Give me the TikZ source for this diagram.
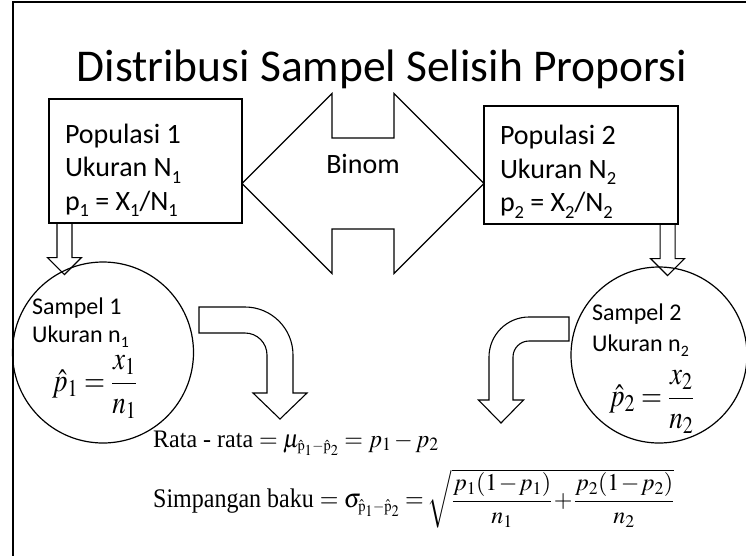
\documentclass[tikz,border=0pt]{standalone}
\usepackage{amsmath}
\usepackage{mathptmx}
\usepackage[no-math]{fontspec}
\setmainfont{Carlito}
\newfontfamily\timesfont{Liberation Serif}
\usepackage{graphicx}
\usetikzlibrary{positioning}
\newcommand{\sbs}[1]{\raisebox{-0.22em}{\scalebox{0.66}{#1}}}
\newcommand{\popstrut}[1]{\spaceskip=0.226em plus 0.1em minus 0.05em\relax\rule{0pt}{#1}}
\newcommand{\tall}[2][1.25]{\scalebox{1}[#1]{#2}}
\tikzset{
  popbox/.style={draw,line width=1.1pt,text width=161pt,inner xsep=16pt,inner ysep=0pt,align=left,font=\fontsize{28}{33.5}\selectfont},
  blk/.style={draw,line width=1.1pt,line join=miter},
  sampcirc/.style={draw,circle,line width=1.2pt,inner sep=0pt},
  titletext/.style={font=\fontsize{45.5}{50}\selectfont,inner sep=0pt},
  lbltext/.style={font=\fontsize{28}{33}\selectfont,inner sep=0pt},
  samptext/.style={font=\fontsize{24}{27}\selectfont,inner sep=0pt},
  formtext/.style={font=\fontsize{24}{28}\selectfont\timesfont,inner sep=0pt},
  esttext/.style={font=\fontsize{27}{30}\selectfont\timesfont,inner sep=0pt}
}
\begin{document}
\begin{tikzpicture}[x=1pt,y=-1pt]
\useasboundingbox (0,0) rectangle (746,555);
% bingkai
\draw[line width=2pt] (13,560) -- (13,1.5) -- (750,1.5);
\node[titletext,anchor=base] (title) at (382,81) {Distribusi Sampel Selisih Proporsi};
% populasi
\node[popbox,minimum height=124pt] (pop1) at (145.5,161) {\popstrut{38pt}Populasi 1\\Ukuran N\sbs{1}\\p\sbs{1} = X\sbs{1}/N\sbs{1}};
\node[popbox,minimum height=118pt,text width=162pt] (pop2) at (581,165) {\popstrut{33pt}Populasi 2\\Ukuran N\sbs{2}\\p\sbs{2} = X\sbs{2}/N\sbs{2}};
% panah binom
\coordinate (bcen) at (363,183.5);
\draw[blk] (bcen) ++(-121,0) -- ++(90,-90) -- ++(0,44.5) -- ++(62,0) -- ++(0,-44.5) -- ++(90,90) -- ++(-90,90) -- ++(0,-44.5) -- ++(-62,0) -- ++(0,44.5) -- cycle;
\node[lbltext,anchor=base] (binom) at ([yshift=10.5pt]bcen) {Binom};
% panah ke bawah
\draw[blk] ([xshift=16pt]pop1.south west) ++(-7.5,0) -- ++(0,34) -- ++(-9.5,0) -- ++(17,17) -- ++(17,-17) -- ++(-9.5,0) -- ++(0,-34);
\draw[blk] ([xshift=-11pt]pop2.south east) ++(-7.5,0) -- ++(0,34) -- ++(-9.5,0) -- ++(17,17) -- ++(17,-17) -- ++(-9.5,0) -- ++(0,-34);
% sampel
\node[sampcirc,minimum size=181pt] (c1) at (103,352.5) {};
\node[sampcirc,minimum size=176pt] (c2) at (659,355) {};
\node[samptext,anchor=base west] (s1) at (32,314) {Sampel 1};
\node[samptext,anchor=base west] (u1) at (32,342) {Ukuran n\sbs{1}};
\node[esttext,anchor=west] (e1) at (52,387) {\tall[1.2]{$\hat{p}_1=\dfrac{x_1}{n_1}$}};
\node[samptext,anchor=base west] (s2) at (592,320) {Sampel 2};
\node[samptext,anchor=base west] (u2) at (592,351) {Ukuran n\sbs{2}};
\node[esttext,anchor=west] (e2) at (609,402) {\tall[1.2]{$\hat{p}_2=\dfrac{x_2}{n_2}$}};
% panah belok
\draw[blk] (199,307) -- (245,307) arc[start angle=-90,end angle=0,radius=48] -- (293,393) -- (307,393) -- (280,419) -- (253,393) -- (267,393) -- (267,355) arc[start angle=0,end angle=-90,radius=22] -- (199,333) -- cycle;
\draw[blk] (569,317) -- (529,317) arc[start angle=-90,end angle=-180,radius=40] -- (489,400) -- (478.5,400) -- (501,423) -- (523.5,400) -- (513,400) -- (513,357) arc[start angle=180,end angle=270,radius=16] -- (569,341) -- cycle;
% rumus
\node[formtext,anchor=base west] (mean) at (153,447) {\tall[1.05]{\medmuskip=2mu Rata - rata $= \mu_{\scriptscriptstyle\hat{\mathrm{p}}_1-\hat{\mathrm{p}}_2} = p_1 - p_2$}};
\node[formtext,anchor=base west] (sd) at (153,507) {\tall[1.12]{Simpangan baku $= \sigma_{\scriptscriptstyle\hat{\mathrm{p}}_1-\hat{\mathrm{p}}_2} =$}\,$\medmuskip=1mu\sqrt{\dfrac{p_1(1-p_1)}{n_1}+\dfrac{p_2(1-p_2)}{n_2}}$};
\end{tikzpicture}
\end{document}
